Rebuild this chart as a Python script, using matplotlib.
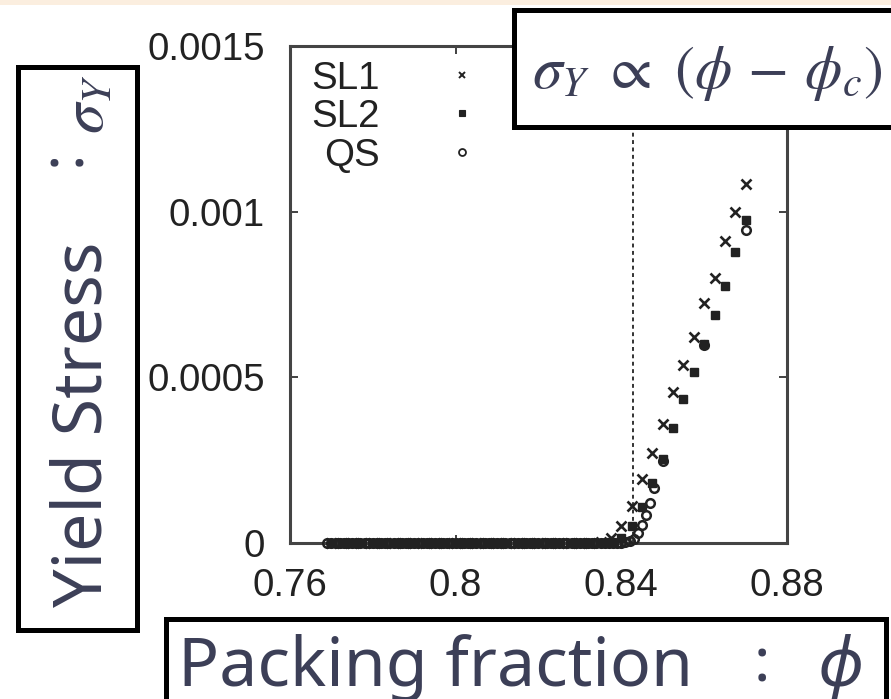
import matplotlib
matplotlib.use("Agg")
import matplotlib.pyplot as plt
from matplotlib.patches import Rectangle

# Yield stress vs packing fraction for three protocols
phi_sl1 = [0.7700, 0.7725, 0.7750, 0.7775, 0.7800, 0.7825, 0.7850, 0.7875,
           0.7900, 0.7925, 0.7950, 0.7975, 0.8000, 0.8025, 0.8050, 0.8075,
           0.8100, 0.8125, 0.8150, 0.8175, 0.8200, 0.8225, 0.8250, 0.8275,
           0.8300, 0.8325, 0.8350, 0.8375, 0.8400, 0.8425, 0.8450, 0.8475,
           0.8500, 0.8525, 0.8550, 0.8575, 0.8600, 0.8625, 0.8650, 0.8675,
           0.8700]
sigma_sl1 = [0, 0, 0, 0, 0, 0, 0, 0,
             0, 0, 0, 0, 0, 0, 0, 0,
             0, 0, 0, 0, 0, 0, 0, 0,
             0, 0, 0.000003, 0.000015, 0.000052, 0.000112, 0.000194, 0.000273,
             0.000358, 0.000455, 0.000536, 0.000621, 0.000724, 0.000800, 0.000912, 0.001000,
             0.001082]

phi_sl2 = [0.7700, 0.7725, 0.7750, 0.7775, 0.7800, 0.7825, 0.7850, 0.7875,
           0.7900, 0.7925, 0.7950, 0.7975, 0.8000, 0.8025, 0.8050, 0.8075,
           0.8100, 0.8125, 0.8150, 0.8175, 0.8200, 0.8225, 0.8250, 0.8275,
           0.8300, 0.8325, 0.8350, 0.8375, 0.8400, 0.8425, 0.8450, 0.8475,
           0.8500, 0.8525, 0.8550, 0.8575, 0.8600, 0.8625, 0.8650, 0.8675,
           0.8700]
sigma_sl2 = [0, 0, 0, 0, 0, 0, 0, 0,
             0, 0, 0, 0, 0, 0, 0, 0,
             0, 0, 0, 0, 0, 0, 0, 0,
             0, 0, 0, 0.000003, 0.000015, 0.000050, 0.000110, 0.000180,
             0.000255, 0.000348, 0.000436, 0.000515, 0.000600, 0.000688, 0.000776, 0.000879,
             0.000976]

phi_qs = [0.769, 0.770, 0.771, 0.772, 0.773, 0.774, 0.775, 0.776, 0.777, 0.778,
          0.779, 0.780, 0.781, 0.782, 0.783, 0.784, 0.785, 0.786, 0.787, 0.788,
          0.789, 0.790, 0.791, 0.792, 0.793, 0.794, 0.795, 0.796, 0.797, 0.798,
          0.799, 0.800, 0.801, 0.802, 0.803, 0.804, 0.805, 0.806, 0.807, 0.808,
          0.809, 0.810, 0.811, 0.812, 0.813, 0.814, 0.815, 0.816, 0.817, 0.818,
          0.819, 0.820, 0.821, 0.822, 0.823, 0.824, 0.825, 0.826, 0.827, 0.828,
          0.829, 0.830, 0.831, 0.832, 0.833, 0.834, 0.835, 0.836, 0.837, 0.838,
          0.839, 0.840, 0.841, 0.842,
          0.843, 0.844, 0.845, 0.846, 0.847, 0.848, 0.850, 0.860, 0.870]
sigma_qs = [0, 0, 0, 0, 0, 0, 0, 0, 0, 0,
            0, 0, 0, 0, 0, 0, 0, 0, 0, 0,
            0, 0, 0, 0, 0, 0, 0, 0, 0, 0,
            0, 0, 0, 0, 0, 0, 0, 0, 0, 0,
            0, 0, 0, 0, 0, 0, 0, 0, 0, 0,
            0, 0, 0, 0, 0, 0, 0, 0, 0, 0,
            0, 0, 0, 0, 0, 0, 0, 0, 0, 0,
            0, 0, 0.000002, 0.000005,
            0.000013, 0.000030, 0.000055, 0.000085, 0.000122, 0.000165, 0.000248, 0.000597, 0.000945]

phi_c = 0.8428

series_names = ["SL1", "SL2", "QS"]
x_ticks = [0.76, 0.80, 0.84, 0.88]
x_tick_labels = ["0.76", "0.8", "0.84", "0.88"]
y_ticks = [0, 0.0005, 0.001, 0.0015]
y_tick_labels = ["0", "0.0005", "0.001", "0.0015"]

W, H, DPI = 891, 699, 100
INK = "#222222"
LABEL_INK = "#3c3f57"
CAPTION_FONT = ["Noto Sans", "DejaVu Sans"]
CAPTION_SIZE = 49

plt.rcParams.update({
    "font.family": ["Liberation Sans", "DejaVu Sans"],
    "mathtext.fontset": "stix",
})


def fx(px):
    return px / W


def fy(py):
    return 1 - py / H


fig = plt.figure(figsize=(W / DPI, H / DPI), dpi=DPI, facecolor="white")

# thin warm strip along the top edge
fig.add_artist(Rectangle((0, fy(5)), 1, 5 / H, transform=fig.transFigure,
                         facecolor="#fbeedf", edgecolor="none", zorder=0))

left, right, top, bottom = 290, 787, 46, 543
ax = fig.add_axes([fx(left), fy(bottom), (right - left) / W, (bottom - top) / H])
ax.set_xlim(0.76, 0.88)
ax.set_ylim(0, 0.0015)

ax.plot([phi_c, phi_c], [0, 0.0015], color="#333333", lw=1.4,
        linestyle=(0, (2.0, 1.8)), zorder=2)

sl1_style = dict(marker="x", ms=6.5, mew=1.9)
sl2_style = dict(marker="s", ms=5.4, mew=1.0)
qs_style = dict(marker="o", ms=6.2, mew=1.8, mfc="none")

mk = dict(linestyle="none", color=INK, zorder=3, clip_on=False)
ax.plot(phi_sl1, sigma_sl1, **sl1_style, **mk)
ax.plot(phi_sl2, sigma_sl2, **sl2_style, **mk)
ax.plot(phi_qs, sigma_qs, **qs_style, **mk)

ax.set_xticks(x_ticks)
ax.set_xticklabels(x_tick_labels)
ax.set_yticks(y_ticks)
ax.set_yticklabels(y_tick_labels)
ax.tick_params(direction="in", length=6, width=1.3, color="#333333",
               labelsize=27.7, labelcolor=INK, pad=18,
               top=True, right=True)
ax.minorticks_off()
for sp in ax.spines.values():
    sp.set_linewidth(2.2)
    sp.set_color("#444444")

# key in the upper left corner: right-justified names, marker samples
key_rows = [75, 113, 152]
key_styles = [dict(marker="x", ms=5.0, mew=1.4),
              dict(marker="s", ms=4.2, mew=0.8),
              dict(marker="o", ms=5.0, mew=1.3, mfc="none")]
for name, row, sty in zip(series_names, key_rows, key_styles):
    fig.text(fx(380), fy(row), name, ha="right", va="center_baseline",
             fontsize=27.7, color=INK)
    ax.plot([fx(462)], [fy(row)], transform=fig.transFigure, clip_on=False,
            linestyle="none", color=INK, **sty)

# boxed axis captions
box = dict(transform=fig.transFigure, facecolor="white", edgecolor="black",
           linewidth=3.6, zorder=5)
fig.add_artist(Rectangle((fx(18), fy(630)), (137 - 18) / W, (630 - 67) / H, **box))
fig.add_artist(Rectangle((fx(166), fy(730)), (886 - 166) / W, (730 - 619) / H, **box))
fig.add_artist(Rectangle((fx(514), fy(127)), (900 - 514) / W, (127 - 10) / H, **box))

cap = dict(color=LABEL_INK, zorder=6)
# vertical caption, read bottom to top
fig.text(fx(101), fy(607), "Yield Stress", rotation=90, ha="left", va="baseline",
         rotation_mode="anchor", fontsize=CAPTION_SIZE, family=CAPTION_FONT,
         weight="medium", **cap)
fig.text(fx(80), fy(158), ":", rotation=90, ha="center", va="baseline",
         rotation_mode="anchor", fontsize=44, family=CAPTION_FONT,
         weight="bold", **cap)
fig.text(fx(104), fy(134), "$\\sigma_Y$", rotation=90, ha="left", va="baseline",
         rotation_mode="anchor", fontsize=44, **cap)

# horizontal caption
fig.text(fx(178), fy(686), "Packing fraction", ha="left", va="baseline",
         fontsize=CAPTION_SIZE, family=CAPTION_FONT, weight="medium", **cap)
fig.text(fx(762), fy(682), ":", ha="center", va="baseline",
         fontsize=44, family=CAPTION_FONT, weight="bold", **cap)
fig.text(fx(818), fy(686), "ϕ", ha="left", va="baseline",
         fontsize=CAPTION_SIZE, family=CAPTION_FONT, style="italic",
         weight="medium", **cap)

fig.text(fx(532), fy(88), "$\\sigma_Y\\ \\propto\\ (\\phi\\, -\\, \\phi_c)$",
         ha="left", va="baseline", fontsize=43, **cap)

fig.savefig("out.png", dpi=DPI, facecolor="white")
